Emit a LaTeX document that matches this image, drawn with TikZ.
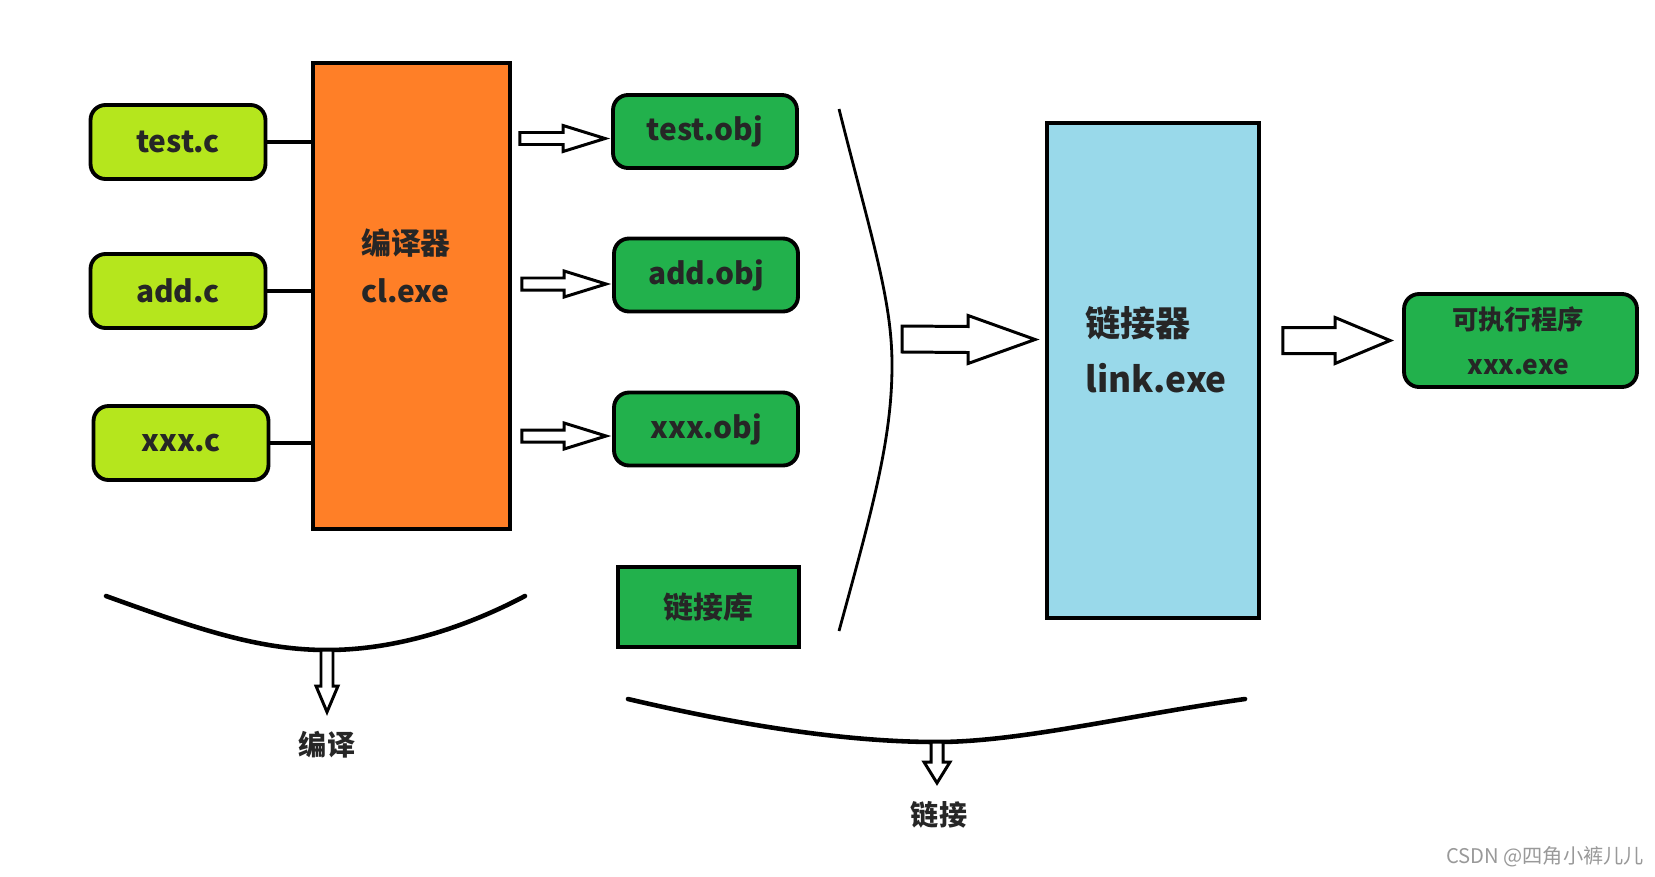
\documentclass[tikz,border=0pt]{standalone}
\usepackage{fontspec}
\setmainfont{Noto Sans CJK SC}
\usetikzlibrary{calc}
\definecolor{limeg}{HTML}{B5E61D}
\definecolor{objgreen}{HTML}{22B14C}
\definecolor{clorange}{HTML}{FF7F27}
\definecolor{linkblue}{HTML}{99D9EA}
\definecolor{txtgray}{HTML}{262626}
% hollow arrows: start, tip, shaft half width, head half width, head length
\newcommand{\hollowright}[5]{\draw[hollow] ($#1+(0,-#3)$) -- ($#2+(-#5,-#3)$) -- ($#2+(-#5,-#4)$) -- #2 -- ($#2+(-#5,#4)$) -- ($#2+(-#5,#3)$) -- ($#1+(0,#3)$) -- cycle;}
\newcommand{\hollowdown}[5]{\draw[hollow] ($#1+(-#3,0)$) -- ($#2+(-#3,-#5)$) -- ($#2+(-#4,-#5)$) -- #2 -- ($#2+(#4,-#5)$) -- ($#2+(#3,-#5)$) -- ($#1+(#3,0)$) -- cycle;}
\begin{document}
\begin{tikzpicture}[x=0.02cm,y=-0.02cm,
	srcbox/.style={draw,line width=2.2pt,rounded corners=0.3cm,fill=limeg,minimum width=3.5cm,minimum height=1.48cm,text=txtgray,font=\bfseries\fontsize{17}{20}\selectfont},
	objbox/.style={srcbox,fill=objgreen,minimum width=3.68cm,minimum height=1.46cm},
	bigbox/.style={draw,line width=2.2pt},
	lbl/.style={text=txtgray,font=\bfseries\fontsize{17}{27}\selectfont,align=left,inner sep=0pt},
	hollow/.style={draw,fill=white,line width=1.7pt,line join=miter},
	brace/.style={line width=2.6pt,line cap=round}]
		\useasboundingbox (0,0) rectangle (1655,876);
		% compiler stage
		\node[bigbox,fill=clorange,minimum width=3.94cm,minimum height=9.32cm] (cl) at (411.5,296) {};
		\node[lbl] (cltxt) at (406,266) {编译器\\cl.exe};
		\node[srcbox] (src1) at (178,142) {test.c};
		\node[srcbox] (src2) at (178,291) {add.c};
		\node[srcbox] (src3) at (181,443) {xxx.c};
		\draw[line width=1.8pt] (src1.east) -- (src1.east -| cl.west);
		\draw[line width=1.8pt] (src2.east) -- (src2.east -| cl.west);
		\draw[line width=1.8pt] (src3.east) -- (src3.east -| cl.west);
		\node[objbox] (obj1) at (705,131.5) {test.obj};
		\node[objbox] (obj2) at (706,275) {add.obj};
		\node[objbox] (obj3) at (706,429) {xxx.obj};
		\node[bigbox,fill=objgreen,minimum width=3.62cm,minimum height=1.6cm,text=txtgray,font=\bfseries\fontsize{17}{20}\selectfont] (lib) at (708.5,607) {链接库};
		\coordinate (a1s) at ($(cl.east |- obj1.west)+(8,7)$);
		\coordinate (a1e) at ($(obj1.west)+(-6,7)$);
		\coordinate (a2s) at ($(cl.east |- obj2.west)+(10,9)$);
		\coordinate (a2e) at ($(obj2.west)+(-6,9)$);
		\coordinate (a3s) at ($(cl.east |- obj3.west)+(10,7)$);
		\coordinate (a3e) at ($(obj3.west)+(-6,7)$);
		\hollowright{(a1s)}{(a1e)}{6}{13}{42}
		\hollowright{(a2s)}{(a2e)}{6}{13}{42}
		\hollowright{(a3s)}{(a3e)}{6}{13}{42}
		% linker stage
		\draw[line width=1.6pt] (839,109) .. controls (872,240) and (892,300) .. (892,365) .. controls (892,440) and (872,510) .. (839,631);
		\node[bigbox,fill=linkblue,minimum width=4.24cm,minimum height=9.9cm] (link) at (1153,370.5) {};
		\node[lbl,font=\bfseries\fontsize{20}{32}\selectfont,anchor=west] (linktxt) at (1085,350) {链接器\\link.exe};
		\node[objbox,minimum width=4.66cm,minimum height=1.86cm] (exe) at (1520.5,340.5) {};
		\node[lbl,align=center,font=\bfseries\fontsize{15}{25.5}\selectfont] (exetxt) at (1518,341) {可执行程序\\xxx.exe};
		\coordinate (a4s) at (902,339);
		\coordinate (a4e) at ($(link.west)+(-10,-31)$);
		\coordinate (a5s) at ($(link.east |- exe.west)+(22,0)$);
		\coordinate (a5e) at ($(exe.west)+(-12,0)$);
		\hollowright{(a4s)}{(a4e)}{13}{24}{67}
		\hollowright{(a5s)}{(a5e)}{13}{23}{55}
		% stage braces
		\coordinate (cb1) at (327,650);
		\coordinate (cb2) at (937,742);
		\draw[brace] (106,596) .. controls (200,630) and (260,650) .. (cb1) .. controls (400,650) and (470,625) .. (525,596);
		\draw[brace] (628,699) .. controls (760,730) and (860,742) .. (cb2) .. controls (1020,742) and (1130,715) .. (1245,699);
		\coordinate (d1) at (327,712);
		\coordinate (d2) at (937,783);
		\hollowdown{(cb1)}{(d1)}{6}{11}{26}
		\hollowdown{(cb2)}{(d2)}{6}{13}{21}
		\node[lbl,font=\bfseries\fontsize{16}{20}\selectfont] (stage1) at (327,745) {编译};
		\node[lbl,font=\bfseries\fontsize{16}{20}\selectfont] (stage2) at (939,815) {链接};
		\node[text=gray!80,font=\fontsize{11.5}{14}\selectfont,inner sep=0pt] (mark) at (1545,857) {CSDN @四角小裤儿儿};
\end{tikzpicture}
\end{document}
